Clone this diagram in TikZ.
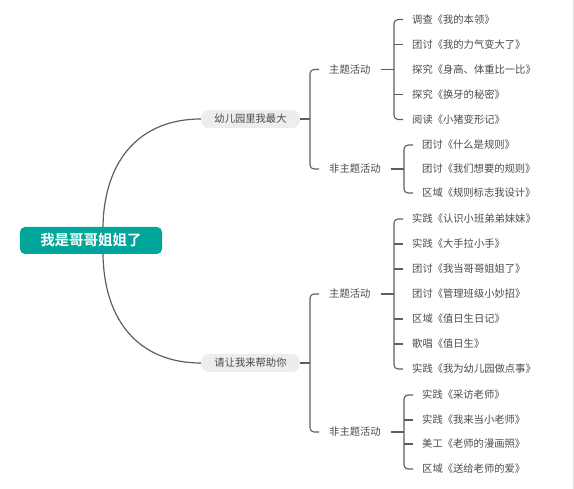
\documentclass[tikz,border=0pt]{standalone}
\usepackage{fontspec}
\usepackage{tikz}
\usepackage{xcolor}
\usetikzlibrary{positioning}
\newfontfamily\cjk{Noto Sans CJK SC}
\newfontfamily\cjkbold{Noto Sans CJK SC Bold}
\definecolor{rootteal}{HTML}{00A699}
\definecolor{pillgray}{HTML}{EDEDED}
\definecolor{inkgray}{HTML}{4A4A4A}
\definecolor{linegray}{HTML}{5E5E5E}

\begin{document}
\begin{tikzpicture}[x=1pt, y=-1pt,
    rootbox/.style={fill=rootteal, rounded corners=5pt, minimum width=142pt, minimum height=27pt,
      text=white, font=\cjkbold\fontsize{14.5}{16}\selectfont},
    pill/.style={fill=pillgray, rounded corners=8pt, minimum width=99pt, minimum height=18pt,
      text=inkgray, font=\cjk\fontsize{10.3}{12}\selectfont},
    midlabel/.style={anchor=west, inner xsep=10pt, inner ysep=0pt, text=inkgray,
      font=\cjk\fontsize{10.3}{12}\selectfont},
    leaf/.style={anchor=west, inner xsep=9pt, inner ysep=0pt, text=inkgray,
      font=\cjk\fontsize{10.3}{12}\selectfont},
    link/.style={draw=linegray, line width=1.1pt, rounded corners=4pt},
    curve/.style={draw=linegray, line width=1.2pt}]
  \useasboundingbox (0,0) rectangle (574,489);
  \draw[gray!25, line width=0.8pt] (573,0) -- (573,489);

  % Root
  \node[rootbox] (root) at (91,240.5) {我是哥哥姐姐了};

  % First branch
  \node[pill] (b1) at (250.5,119) {幼儿园里我最大};
  \node[midlabel] (m1) at (319,69.5) {主题活动};
  \node[midlabel] (m2) at (319,169) {非主题活动};

  \node[leaf] (a1) at (403,19.5) {调查《我的本领》};
  \node[leaf] (a2) at (403,44.5) {团讨《我的力气变大了》};
  \node[leaf] (a3) at (403,69.5) {探究《身高、体重比一比》};
  \node[leaf] (a4) at (403,94.5) {探究《换牙的秘密》};
  \node[leaf] (a5) at (403,119.5) {阅读《小猪变形记》};

  \node[leaf] (c1) at (413,145) {团讨《什么是规则》};
  \node[leaf] (c2) at (413,169) {团讨《我们想要的规则》};
  \node[leaf] (c3) at (413,193) {区域《规则标志我设计》};

  % Second branch
  \node[pill] (b2) at (250.5,363) {请让我来帮助你};
  \node[midlabel] (m3) at (319,294) {主题活动};
  \node[midlabel] (m4) at (319,432) {非主题活动};

  \node[leaf] (d1) at (403,219) {实践《认识小班弟弟妹妹》};
  \node[leaf] (d2) at (403,244) {实践《大手拉小手》};
  \node[leaf] (d3) at (403,269) {团讨《我当哥哥姐姐了》};
  \node[leaf] (d4) at (403,294) {团讨《管理班级小妙招》};
  \node[leaf] (d5) at (403,319) {区域《值日生日记》};
  \node[leaf] (d6) at (403,344) {歌唱《值日生》};
  \node[leaf] (d7) at (403,369) {实践《我为幼儿园做点事》};

  \node[leaf] (e1) at (413,395) {实践《采访老师》};
  \node[leaf] (e2) at (413,420) {实践《我来当小老师》};
  \node[leaf] (e3) at (413,444) {美工《老师的漫画照》};
  \node[leaf] (e4) at (413,469) {区域《送给老师的爱》};

  % spines
  \coordinate (s1) at (310,119);
  \coordinate (s2) at (310,363);
  \coordinate (sa) at (394,69.5);
  \coordinate (sc) at (404,169);
  \coordinate (sd) at (394,294);
  \coordinate (se) at (404,432);

  % curves from the root
  \draw[curve] ([xshift=12pt]root.north) .. controls (104,160) and (140,119) .. (b1.west);
  \draw[curve] ([xshift=12pt]root.south) .. controls (104,322) and (140,363) .. (b2.west);

  % brackets
  \draw[link] (b1.east) -- (s1);
  \draw[link] (m1.west) -| (s1) |- (m2.west);
  \draw[link] (b2.east) -- (s2);
  \draw[link] (m3.west) -| (s2) |- (m4.west);

  \draw[link] (m1.east) -- (sa);
  \draw[link] (a1.west) -| (sa) |- (a5.west);
  \draw[link] (a2.west) -- (a2.west -| sa);
  \draw[link] (a4.west) -- (a4.west -| sa);

  \draw[link] (m2.east) -- (sc);
  \draw[link] (c1.west) -| (sc) |- (c3.west);

  \draw[link] (m3.east) -- (sd);
  \draw[link] (d1.west) -| (sd) |- (d7.west);
  \draw[link] (d2.west) -- (d2.west -| sd);
  \draw[link] (d3.west) -- (d3.west -| sd);
  \draw[link] (d5.west) -- (d5.west -| sd);
  \draw[link] (d6.west) -- (d6.west -| sd);

  \draw[link] (m4.east) -- (se);
  \draw[link] (e1.west) -| (se) |- (e4.west);
  \draw[link] (e2.west) -- (e2.west -| se);
  \draw[link] (e3.west) -- (e3.west -| se);
\end{tikzpicture}
\end{document}
